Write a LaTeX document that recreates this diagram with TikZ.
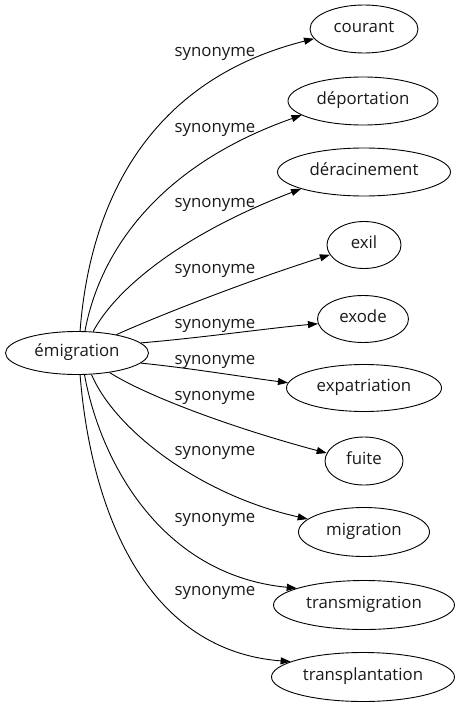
\documentclass[tikz,border=0pt]{standalone}
\usepackage{fontspec}
\setmainfont{Open Sans}
\usetikzlibrary{arrows.meta,shapes.geometric}
\begin{document}
\begin{tikzpicture}[x=1pt,y=-1pt,
  word/.style={ellipse,draw=black,line width=0.9pt,inner sep=0pt,text=black!90,
    font=\fontsize{16.8}{18}\selectfont,text height=11pt,text depth=3.5pt},
  lab/.style={anchor=base,inner sep=0pt,text=black!90,font=\fontsize{16.8}{18}\selectfont},
  syn/.style={draw=black,line width=0.9pt,-{Triangle[length=10pt,width=7pt]}}]
\useasboundingbox (0,0) rectangle (461,707);
\node[word,minimum width=143pt,minimum height=43pt] (emig) at (77,353) {émigration};
\node[word,minimum width=108pt,minimum height=48pt] (courant) at (364,29) {courant};
\node[word,minimum width=150pt,minimum height=48pt] (deport) at (363,101) {déportation};
\node[word,minimum width=173pt,minimum height=48pt] (derac) at (364,172) {déracinement};
\node[word,minimum width=74pt,minimum height=47pt] (exil) at (364,245) {exil};
\node[word,minimum width=91pt,minimum height=47pt] (exode) at (363,319) {exode};
\node[word,minimum width=155pt,minimum height=47pt] (expat) at (364,388) {expatriation};
\node[word,minimum width=78pt,minimum height=48pt] (fuite) at (364,461) {fuite};
\node[word,minimum width=131pt,minimum height=49pt] (migr) at (364,532) {migration};
\node[word,minimum width=181pt,minimum height=49pt] (transm) at (364,605) {transmigration};
\node[word,minimum width=183pt,minimum height=49pt] (transp) at (363,677) {transplantation};

\draw[syn] (emig.82) .. controls (90,200) and (150,80) .. (courant.191);
\draw[syn] (emig.70) .. controls (100,250) and (160,165) .. (deport.193);
\draw[syn] (emig.53) .. controls (115,290) and (180,235) .. (derac.195);
\draw[syn] (emig.25) .. controls (160,315) and (250,280) .. (exil.196);
\draw[syn] (emig.9) .. controls (200,338) and (270,328) .. (exode.186);
\draw[syn] (emig.-9) .. controls (190,368) and (250,378) .. (expat.176);
\draw[syn] (emig.-31) .. controls (150,398) and (240,430) .. (fuite.168);
\draw[syn] (emig.-56) .. controls (115,430) and (200,495) .. (migr.167);
\draw[syn] (emig.-71) .. controls (100,460) and (160,575) .. (transm.166);
\draw[syn] (emig.-82) .. controls (90,500) and (140,650) .. (transp.168);

\node[lab] (l1) at (215,56) {synonyme};
\node[lab] (l2) at (215,132) {synonyme};
\node[lab] (l3) at (215,207) {synonyme};
\node[lab] (l4) at (215,273) {synonyme};
\node[lab] (l5) at (215,328) {synonyme};
\node[lab] (l6) at (215,364) {synonyme};
\node[lab] (l7) at (215,400) {synonyme};
\node[lab] (l8) at (215,455) {synonyme};
\node[lab] (l9) at (215,522) {synonyme};
\node[lab] (l10) at (215,595) {synonyme};
\end{tikzpicture}
\end{document}
